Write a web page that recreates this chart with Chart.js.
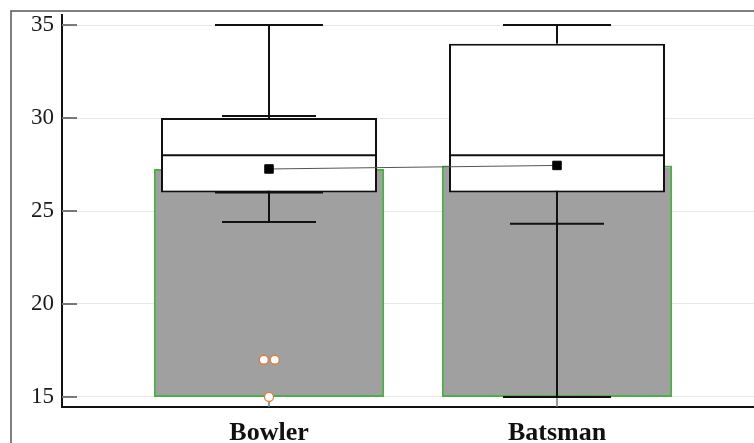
<!DOCTYPE html>
<html>
<head>
<meta charset="utf-8">
<script src="https://cdn.jsdelivr.net/npm/chart.js@4.4.0/dist/chart.umd.min.js"></script>
<style>
	html, body { margin: 0; padding: 0; background: #fff; }
	#wrap { position: relative; width: 754px; height: 443px; }
</style>
</head>
<body>
<div id="wrap"><canvas id="boxChart"></canvas></div>
<script>
var categories = ['Bowler', 'Batsman'];
var positions = [1, 2];
var means = [27.26, 27.45];
var sds = [2.85, 3.13];
var q1 = [26, 26];
var medians = [28, 28];
var q3 = [30, 34];
var whiskerLow = [26, 15];
var whiskerHigh = [35, 35];
var outlierX = [0.982, 1.02, 1];
var outlierY = [17, 17, 15];
var yTicks = [15, 20, 25, 30, 35];
var barBase = 15;

var SERIF = "'Liberation Serif', 'Times New Roman', serif";

function hline(ctx, x1, x2, y) {
	ctx.beginPath();
	ctx.moveTo(x1, y);
	ctx.lineTo(x2, y);
	ctx.stroke();
}

function vline(ctx, x, y1, y2) {
	ctx.beginPath();
	ctx.moveTo(x, y1);
	ctx.lineTo(x, y2);
	ctx.stroke();
}

// mean +/- sd, drawn under the boxes
function drawErrorBars(chart) {
	var ctx = chart.ctx, xs = chart.scales.x, ys = chart.scales.y;
	ctx.save();
	ctx.strokeStyle = '#111';
	ctx.lineWidth = 2;
	positions.forEach(function(p, i) {
		var x = xs.getPixelForValue(p);
		var top = ys.getPixelForValue(means[i] + sds[i]);
		var bot = ys.getPixelForValue(means[i] - sds[i]);
		vline(ctx, x, top, bot);
		hline(ctx, x - 47, x + 47, top);
		hline(ctx, x - 47, x + 47, bot);
	});
	ctx.restore();
}

function drawWhiskers(chart) {
	var ctx = chart.ctx, xs = chart.scales.x, ys = chart.scales.y;
	ctx.save();
	ctx.strokeStyle = '#111';
	ctx.lineWidth = 2;
	positions.forEach(function(p, i) {
		var x = xs.getPixelForValue(p);
		var yHi = ys.getPixelForValue(whiskerHigh[i]);
		var yLo = ys.getPixelForValue(whiskerLow[i]);
		vline(ctx, x, ys.getPixelForValue(q3[i]), yHi);
		vline(ctx, x, ys.getPixelForValue(q1[i]), yLo);
		hline(ctx, x - 54, x + 54, yHi);
		hline(ctx, x - 54, x + 54, yLo);
		hline(ctx, x - 107, x + 107, ys.getPixelForValue(medians[i]));
	});
	ctx.restore();
}

var extras = {
	id: 'extras',
	beforeDraw: function(chart) {
		var ctx = chart.ctx;
		ctx.save();
		ctx.strokeStyle = '#555';
		ctx.lineWidth = 1.5;
		ctx.beginPath();
		ctx.moveTo(11, chart.height);
		ctx.lineTo(11, 11);
		ctx.lineTo(chart.width, 11);
		ctx.stroke();
		ctx.restore();
	},
	beforeDatasetsDraw: function(chart) {
		var ctx = chart.ctx, a = chart.chartArea, ys = chart.scales.y, xs = chart.scales.x;
		ctx.save();
		ctx.strokeStyle = '#777';
		ctx.lineWidth = 2;
		yTicks.forEach(function(t) {
			hline(ctx, a.left, a.left + 15, ys.getPixelForValue(t));
		});
		ctx.lineWidth = 1.5;
		positions.forEach(function(p) {
			vline(ctx, xs.getPixelForValue(p), a.bottom, a.bottom - 10);
		});
		ctx.restore();
	},
	afterDatasetDraw: function(chart, args) {
		if (args.index === 0) drawErrorBars(chart);
		if (args.index === 1) drawWhiskers(chart);
	}
};

new Chart(document.getElementById('boxChart').getContext('2d'), {
	type: 'bar',
	data: {
		datasets: [{
			label: 'Mean',
			order: 4,
			data: positions.map(function(p, i) { return { x: p, y: [barBase, means[i]] }; }),
			backgroundColor: '#a0a0a0',
			borderColor: '#4caf48',
			borderWidth: 2,
			borderSkipped: false,
			grouped: false,
			categoryPercentage: 1,
			barPercentage: 0.799
		}, {
			label: 'Box',
			order: 3,
			data: positions.map(function(p, i) { return { x: p, y: [q1[i], q3[i]] }; }),
			backgroundColor: '#fff',
			borderColor: '#111',
			borderWidth: 2,
			borderSkipped: false,
			grouped: false,
			categoryPercentage: 1,
			barPercentage: 0.75
		}, {
			type: 'line',
			label: 'Outliers',
			order: 2,
			data: outlierX.map(function(x, i) { return { x: x, y: outlierY[i] }; }),
			showLine: false,
			pointRadius: 4.5,
			pointBackgroundColor: '#fff',
			pointBorderColor: '#e07b39',
			pointBorderWidth: 1.3
		}, {
			type: 'line',
			label: 'Mean line',
			order: 1,
			data: positions.map(function(p, i) { return { x: p, y: means[i] }; }),
			borderColor: '#555',
			borderWidth: 1,
			pointStyle: 'rect',
			pointRadius: 6,
			pointBackgroundColor: '#000',
			pointBorderColor: '#000',
			pointBorderWidth: 1
		}]
	},
	options: {
		responsive: true,
		maintainAspectRatio: false,
		animation: false,
		layout: { autoPadding: false, padding: { top: 15, left: 0, right: 0, bottom: 0 } },
		plugins: { legend: { display: false }, tooltip: { enabled: false } },
		scales: {
			x: {
				type: 'linear',
				min: 0.28125,
				max: 2.684,
				offset: false,
				afterBuildTicks: function(scale) {
					scale.ticks = positions.map(function(p) { return { value: p }; });
				},
				afterFit: function(scale) {
					scale.height = 36;
					scale.paddingLeft = 0;
					scale.paddingRight = 0;
				},
				grid: { display: false, drawTicks: false },
				border: { display: true, color: '#111', width: 2 },
				ticks: {
					autoSkip: false,
					maxRotation: 0,
					padding: 11,
					color: '#111',
					font: { family: SERIF, size: 26, weight: 'bold' },
					callback: function(value, index) { return categories[index]; }
				}
			},
			y: {
				min: 14.46,
				max: 35.54,
				afterBuildTicks: function(scale) {
					scale.ticks = yTicks.map(function(t) { return { value: t }; });
				},
				afterFit: function(scale) {
					scale.width = 62;
					scale.paddingTop = 0;
					scale.paddingBottom = 0;
				},
				grid: { color: '#e8e8e8', lineWidth: 1, drawTicks: false },
				border: { display: true, color: '#111', width: 2 },
				ticks: {
					padding: 8,
					color: '#1a1a1a',
					font: { family: SERIF, size: 23 }
				}
			}
		}
	},
	plugins: [extras]
});
</script>
</body>
</html>
